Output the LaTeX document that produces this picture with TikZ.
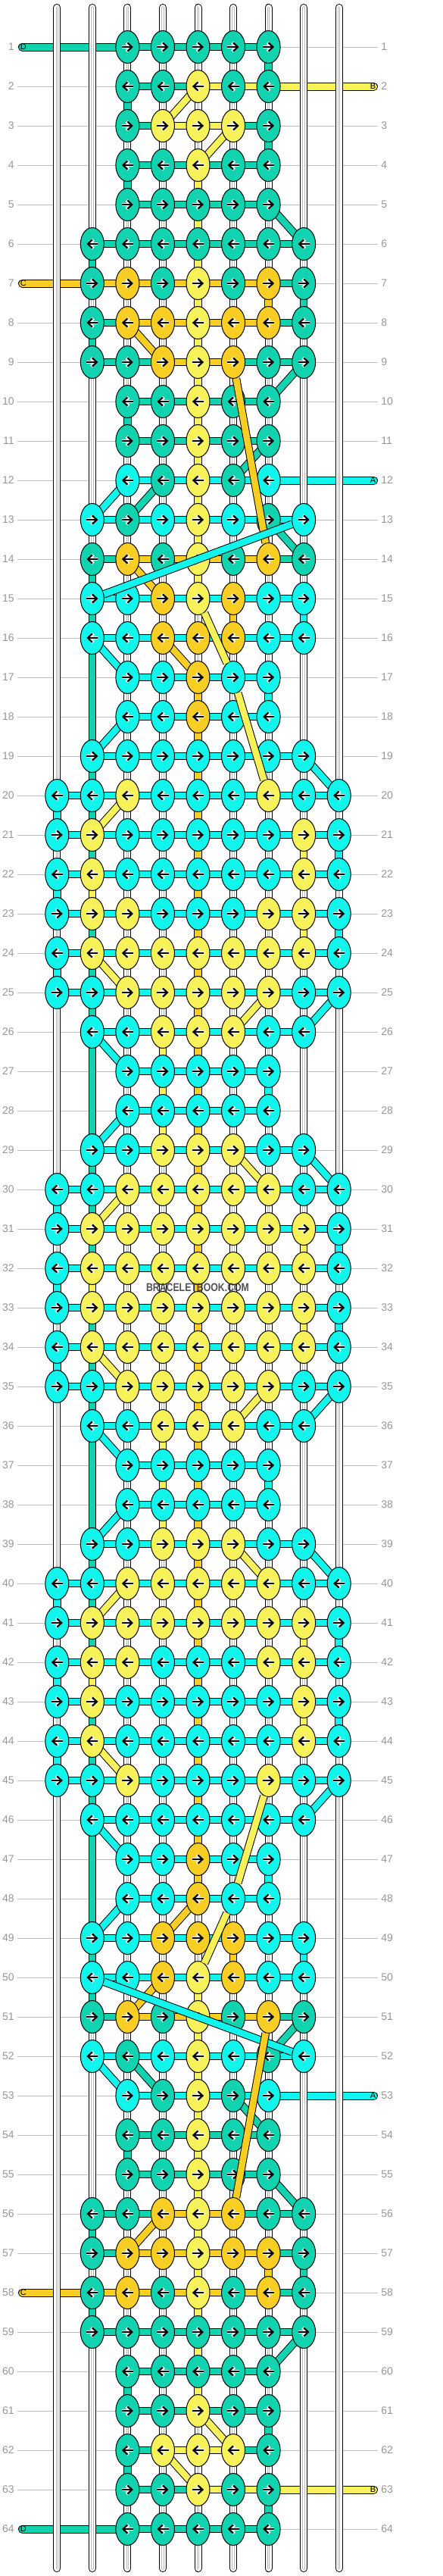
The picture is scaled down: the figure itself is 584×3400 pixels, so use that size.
\documentclass[tikz,border=0pt]{standalone}
\usepackage{fontspec}
\setmainfont{Liberation Sans}
\usepackage{xstring}
\usetikzlibrary{shapes.geometric,arrows.meta}
\definecolor{kt}{RGB}{17,211,175}
\definecolor{kc}{RGB}{16,245,236}
\definecolor{ky}{RGB}{248,242,90}
\definecolor{kg}{RGB}{248,206,36}
\definecolor{numgray}{RGB}{150,150,150}
\tikzset{knot/.style={ellipse, draw, line width=0.5pt, inner sep=0pt, minimum width=15.5pt, minimum height=21.5pt},
  seg/.style={double=#1, double distance=4.3pt, line width=0.5pt},
  tail/.style={double=#1, double distance=4.5pt, line width=0.5pt, line cap=round},
  strandout/.style={double=white, double distance=4pt, line width=0.5pt, line cap=round},
  strandin/.style={double=white, draw=black!28, double distance=0.7pt, line width=0.5pt, line cap=round},
  rowline/.style={draw=black!25, line width=0.5pt},
  rownum/.style={text=numgray, font=\fontsize{7}{8}\selectfont, inner sep=0pt},
  endlab/.style={font=\fontsize{5.5}{6}\selectfont, inner sep=0pt},
  arwhalo/.style={white, line width=2.1pt, -{Straight Barb[length=3pt,width=5.6pt]}},
  arw/.style={black, line width=1.1pt, -{Straight Barb[length=3pt,width=5.6pt]}}}
\def\rows{1/--ttttt--/--tttt--/------t--, 2/--ttytt--/--ttyy--/--t------,
  3/--tyyyt--/--tyyt--/------t--, 4/--ttytt--/--tttt--/--t-y----,
  5/--ttttt--/--tttt--/----y----, 6/-ttttttt-/-tttttt-/-t--y----,
  7/-tgtytgt-/-gggggt-/----y-gt-, 8/-tggyggt-/-tggggt-/-t--y----,
  9/-ttgygtt-/-ttggtt-/----y----, 10/--ttytt--/--tttt--/--t-y----,
  11/--ttytt--/--tttt--/----y----, 12/--ctytc--/--cccc--/----y----,
  13/-ctcyctc-/-cccccc-/----y----, 14/-tgtytgt-/-tggggt-/-t--y----,
  15/-ccgygcc-/-cccccc-/-t---g-c-, 16/-ccgggcc-/-cccccc-/-t-------,
  17/--ccgcc--/--cccc--/-t--g-c--, 18/--ccgcc--/--cccc--/-t--g----,
  19/-ccccccc-/-cccccc-/-t--g----, 20/ccycccycc/cccccccc/ct--g----,
  21/cycccccyc/cccccccc/-t--g--yc, 22/cycccccyc/cccccccc/cy--g----,
  23/cyycccyyc/cccccccc/-t--g--yc, 24/cyyyyyyyc/cccccccc/ct--g----,
  25/ccyyyyycc/cccccccc/-t--g----, 26/-ccyyycc-/-cccccc-/-t-yg----,
  27/--ccccc--/--cccc--/-t-yg-c--, 28/--ccccc--/--cccc--/-t-yg----,
  29/-ccyyycc-/-cccccc-/-t--g----, 30/ccyyyyycc/cccccccc/ct--g----,
  31/cyyyyyyyc/cccccccc/-t--g--yc, 32/cyyyyyyyc/cccccccc/cy--g----,
  33/cyyyyyyyc/cccccccc/-t--g--yc, 34/cyyyyyyyc/cccccccc/ct--g----,
  35/ccyyyyycc/cccccccc/-t--g----, 36/-ccyyycc-/-cccccc-/-t-yg----,
  37/--ccccc--/--cccc--/-t-yg-c--, 38/--ccccc--/--cccc--/-t-yg----,
  39/-ccyyycc-/-cccccc-/-t--g----, 40/ccyyyyycc/cccccccc/ct--g----,
  41/cyyyyyyyc/cccccccc/-t--g--yc, 42/cyycccyyc/cccccccc/cy--g----,
  43/cycccccyc/cccccccc/-t--g--yc, 44/cycccccyc/cccccccc/ct--g----,
  45/ccycccycc/cccccccc/-t--g----, 46/-ccccccc-/-cccccc-/-t--g----,
  47/--ccgcc--/--cccc--/-t--g-c--, 48/--ccgcc--/--cccc--/-t-------,
  49/-ccgggcc-/-cccccc-/-t---g-c-, 50/-ccgygcc-/-cccccc-/-t--y----,
  51/-tgtytgt-/-tggggt-/----y----, 52/-ctcyctc-/-cccccc-/----y----,
  53/--ctytc--/--cccc--/----y----, 54/--ttytt--/--tttt--/--t-y----,
  55/--ttytt--/--tttt--/----y----, 56/-ttgygtt-/-ttggtt-/-t--y----,
  57/-tggyggt-/-tggggt-/----y-gt-, 58/-tgtytgt-/-gggggt-/-t--y----,
  59/-ttttttt-/-tttttt-/----y----, 60/--ttttt--/--tttt--/--t-y----,
  61/--ttytt--/--tttt--/------t--, 62/--tyyyt--/--tyyt--/--t------,
  63/--ttytt--/--ttyy--/------t--, 64/--ttttt--/--tttt--/---------}

\begin{document}
\begin{tikzpicture}[x=0.5pt, y=-0.5pt]
\useasboundingbox (0,0) rectangle (584,3400);
\foreach \row in {1,...,64} {
  \foreach \col in {0,...,8}
    \coordinate (g-\row-\col) at ({75.3+46.55*\col},{62+52*(\row-1)});
  \draw[rowline] (23,{62+52*(\row-1)}) -- (499,{62+52*(\row-1)});
  \node[rownum, anchor=east] (ll-\row) at (19,{62+52*(\row-1)}) {\row};
  \node[rownum, anchor=west] (lr-\row) at (503,{62+52*(\row-1)}) {\row};
}

\foreach \row/\col/\x/\cl/\lab/\side in {1/2/29.5/t/D/west, 64/2/29.5/t/D/west, 7/1/29.5/g/C/west, 58/1/29.5/g/C/west,
    2/6/493.5/y/B/east, 63/6/493.5/y/B/east, 12/6/493.5/c/A/east, 53/6/493.5/c/A/east} {
  \coordinate (end-\row) at (\x,{62+52*(\row-1)});
  \draw[tail=k\cl] (end-\row) -- (g-\row-\col);
  \node[endlab, anchor=\side] (e-\row) at ([xshift={\x<100 ? -1.5pt : 1.5pt}]end-\row) {\lab};
}

\foreach \col in {0,...,8} {
  \coordinate (top-\col) at ({75.3+46.55*\col},10);
  \coordinate (bot-\col) at ({75.3+46.55*\col},3390);
  \draw[strandout] (top-\col) -- (bot-\col);
  \draw[strandin] (top-\col) -- (bot-\col);
}

\foreach \row/\K/\H/\V in \rows {
  \pgfmathtruncatemacro\nxt{\row+1}
  \foreach \col in {0,...,8} {
    \pgfmathtruncatemacro\nn{\col+1}
    \StrChar{\V}{\nn}[\cl]
    \if\cl-\else \draw[seg=k\cl] (g-\row-\col) -- (g-\nxt-\col); \fi
  }
}
\foreach \a/\b/\c/\d/\cl in {2/4/3/3/y, 3/5/4/4/y, 5/6/6/7/t, 8/2/9/3/g, 9/7/10/6/t, 11/6/12/5/t,
    12/2/13/1/c, 12/3/13/2/t, 13/6/14/7/t, 14/2/15/3/g, 16/1/17/2/c, 16/3/17/4/g, 18/2/19/1/c,
    19/7/20/8/c, 20/2/21/1/y, 24/1/25/2/y, 25/6/26/5/y, 25/8/26/7/c, 26/1/27/2/c, 28/2/29/1/c,
    29/5/30/6/y, 29/7/30/8/c, 30/2/31/1/y, 34/1/35/2/y, 35/6/36/5/y, 35/8/36/7/c, 36/1/37/2/c,
    38/2/39/1/c, 39/5/40/6/y, 39/7/40/8/c, 40/2/41/1/y, 44/1/45/2/y, 45/8/46/7/c, 46/1/47/2/c,
    48/2/49/1/c, 48/4/49/3/g, 50/3/51/2/g, 51/7/52/6/t, 52/1/53/2/c, 52/2/53/3/t, 53/5/54/6/t,
    55/6/56/7/t, 56/3/57/2/g, 59/7/60/6/t, 61/4/62/5/y, 62/3/63/4/y}
  \draw[seg=k\cl] (g-\a-\b) -- (g-\c-\d);

\foreach \row/\K/\H/\V in \rows {
  \foreach \col in {0,...,7} {
    \pgfmathtruncatemacro\nn{\col+1}
    \StrChar{\H}{\nn}[\cl]
    \if\cl-\else \draw[seg=k\cl] (g-\row-\col) -- (g-\row-\nn); \fi
  }
}

\foreach \row/\K/\H/\V in \rows {
  \foreach \col in {0,...,8} {
    \pgfmathtruncatemacro\nn{\col+1}
    \StrChar{\K}{\nn}[\cl]
    \if\cl-\else
      \node[knot, fill=k\cl] (k-\row-\col) at (g-\row-\col) {};
      \ifodd\row
        \draw[arwhalo] ([xshift=-3.8pt]k-\row-\col.center) -- ([xshift=3.8pt]k-\row-\col.center);
        \draw[arw] ([xshift=-3.8pt]k-\row-\col.center) -- ([xshift=3.8pt]k-\row-\col.center);
      \else
        \draw[arwhalo] ([xshift=3.8pt]k-\row-\col.center) -- ([xshift=-3.8pt]k-\row-\col.center);
        \draw[arw] ([xshift=3.8pt]k-\row-\col.center) -- ([xshift=-3.8pt]k-\row-\col.center);
      \fi
    \fi
  }
}

\foreach \a/\b/\c/\d/\cl in {9/5/14/6/g, 13/7/15/1/c, 15/4/17/5/y, 17/5/20/6/y,
    45/6/48/5/y, 48/5/50/4/y, 50/1/52/7/c, 51/6/56/5/g}
  \draw[seg=k\cl] (k-\a-\b) -- (k-\c-\d);

\node[text=black!80, opacity=0.85, font=\bfseries\fontsize{7.5}{8}\selectfont, inner sep=0pt] (mark) at (261,1699)
  {\scalebox{0.82}[1]{BRACELETBOOK.COM}};
\end{tikzpicture}
\end{document}
